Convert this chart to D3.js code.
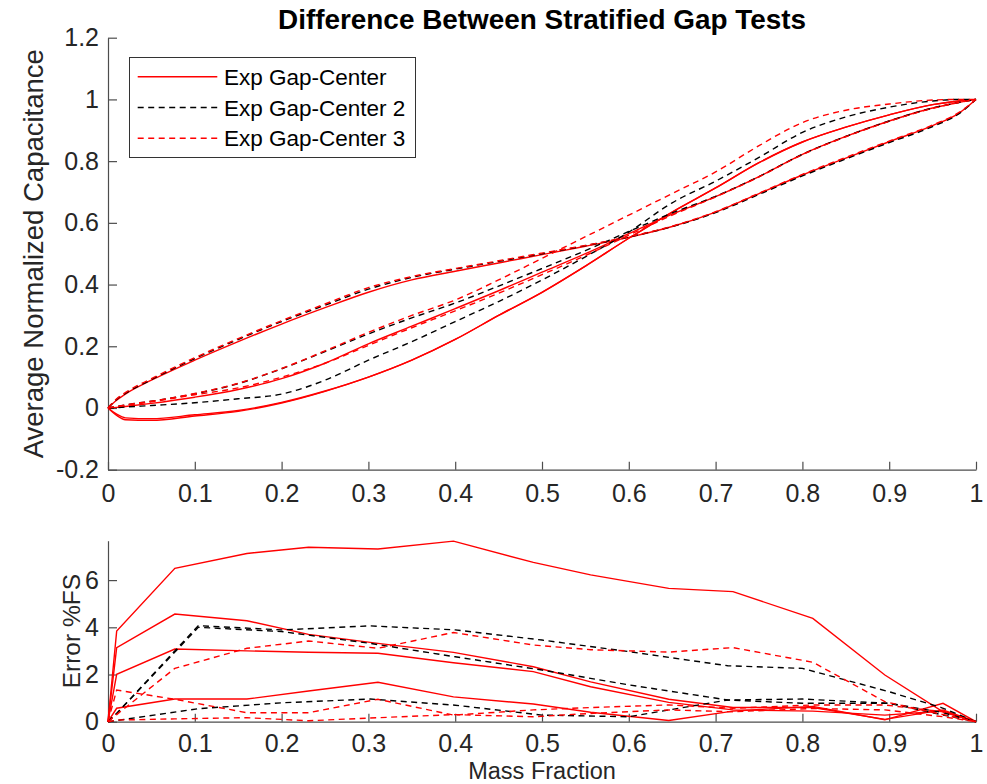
<!DOCTYPE html>
<html>
<head>
<meta charset="utf-8">
<script src="https://cdn.jsdelivr.net/npm/d3@7"></script>
<style>
  body { margin: 0; background: #fff; }
  text { font-family: "Liberation Sans", Arial, Helvetica, sans-serif; }
</style>
</head>
<body>
<script>
// ---- tick labels / legend ----
const xTicks = [0, 0.1, 0.2, 0.3, 0.4, 0.5, 0.6, 0.7, 0.8, 0.9, 1];
const capTicks = [-0.2, 0, 0.2, 0.4, 0.6, 0.8, 1, 1.2];
const errTicks = [0, 2, 4, 6];
const legendLabels = ["Exp Gap-Center", "Exp Gap-Center 2", "Exp Gap-Center 3"];

// ---- top panel: mass fraction grid shared by the capacitance curves ----
const massGrid = [0, 0.01, 0.02, 0.05, 0.1, 0.15, 0.2, 0.25, 0.3, 0.35, 0.4, 0.45, 0.5, 0.55, 0.6, 0.65, 0.7, 0.75, 0.8, 0.85, 0.9, 0.95, 0.98, 1];

// Exp Gap-Center (solid red)
const cap1A = [0, 0.025, 0.045, 0.09, 0.155, 0.215, 0.272, 0.325, 0.375, 0.415, 0.443, 0.47, 0.497, 0.524, 0.553, 0.588, 0.635, 0.695, 0.755, 0.81, 0.863, 0.915, 0.955, 1];
const cap1B = [0, -0.02, -0.032, -0.035, -0.022, -0.008, 0.018, 0.055, 0.1, 0.155, 0.222, 0.3, 0.375, 0.46, 0.55, 0.635, 0.713, 0.795, 0.862, 0.91, 0.95, 0.983, 0.995, 1];
const cap1C = [0, -0.024, -0.038, -0.04, -0.026, -0.011, 0.016, 0.054, 0.1, 0.155, 0.222, 0.3, 0.375, 0.46, 0.55, 0.635, 0.713, 0.795, 0.862, 0.91, 0.95, 0.983, 0.995, 1];
const cap1D = [0, 0.002, 0.005, 0.015, 0.035, 0.06, 0.095, 0.145, 0.208, 0.265, 0.322, 0.38, 0.44, 0.5, 0.565, 0.628, 0.685, 0.75, 0.822, 0.88, 0.93, 0.972, 0.99, 1];

// Exp Gap-Center 2 (dashed black)
const cap2A = [0, 0.028, 0.047, 0.092, 0.16, 0.222, 0.28, 0.333, 0.385, 0.423, 0.45, 0.475, 0.5, 0.526, 0.554, 0.588, 0.633, 0.692, 0.752, 0.807, 0.86, 0.912, 0.953, 1];
const cap2B = [0, 0.001, 0.003, 0.008, 0.017, 0.03, 0.045, 0.09, 0.155, 0.215, 0.28, 0.345, 0.415, 0.49, 0.57, 0.665, 0.735, 0.812, 0.893, 0.943, 0.975, 0.995, 1, 1];
const cap2C = [0, 0.005, 0.01, 0.022, 0.046, 0.079, 0.127, 0.183, 0.24, 0.292, 0.34, 0.395, 0.452, 0.51, 0.572, 0.632, 0.686, 0.75, 0.822, 0.88, 0.93, 0.972, 0.99, 1];

// Exp Gap-Center 3 (dashed red)
const cap3A = [0, 0.03, 0.05, 0.095, 0.163, 0.225, 0.283, 0.337, 0.39, 0.426, 0.452, 0.477, 0.502, 0.527, 0.555, 0.589, 0.636, 0.696, 0.757, 0.812, 0.865, 0.917, 0.957, 1];
const cap3B = [0, 0.005, 0.01, 0.022, 0.047, 0.08, 0.128, 0.185, 0.245, 0.3, 0.35, 0.415, 0.485, 0.555, 0.625, 0.695, 0.765, 0.85, 0.925, 0.965, 0.985, 0.998, 1, 1];
const cap3C = [0, 0.004, 0.008, 0.02, 0.043, 0.065, 0.1, 0.145, 0.203, 0.26, 0.315, 0.372, 0.432, 0.494, 0.56, 0.625, 0.684, 0.749, 0.821, 0.879, 0.929, 0.971, 0.99, 1];

// ---- bottom panel: error %FS at the test points ----
const massRed = [0, 0.01, 0.077, 0.16, 0.231, 0.311, 0.398, 0.49, 0.556, 0.646, 0.72, 0.812, 0.895, 0.962, 1];
const err1A = [0, 3.84, 6.5, 7.13, 7.39, 7.32, 7.65, 6.75, 6.22, 5.65, 5.51, 4.38, 1.98, 0.42, 0];
const err1B = [0, 3.14, 4.56, 4.28, 3.7, 3.32, 2.94, 2.33, 1.69, 0.95, 0.6, 0.6, 0.1, 0.5, 0];
const err1C = [0, 2.01, 3.08, 3.0, 2.94, 2.9, 2.5, 2.12, 1.48, 0.82, 0.5, 0.45, 0.28, 0.45, 0];
const err1D = [0, 0.57, 0.96, 0.96, 1.3, 1.67, 1.05, 0.75, 0.4, 0.05, 0.45, 0.65, 0.08, 0.78, 0];

const massBlack = [0, 0.01, 0.104, 0.2, 0.302, 0.4, 0.5, 0.6, 0.714, 0.8, 0.9, 0.96, 1];
const err2A = [0, 0.35, 4.07, 3.89, 4.06, 3.89, 3.46, 2.97, 2.37, 2.26, 1.27, 0.6, 0];
const err2B = [0, 0.35, 4.0, 3.82, 3.32, 2.75, 2.19, 1.56, 0.92, 0.78, 0.78, 0.3, 0];
const err2C = [0, 0.05, 0.55, 0.8, 0.96, 0.7, 0.28, 0.21, 0.92, 0.96, 0.78, 0.4, 0];

const err3A = [0, 0.3, 2.26, 3.11, 3.42, 3.11, 3.78, 3.25, 3.05, 2.95, 3.14, 2.52, 0.85, 0.3, 0];
const err3B = [0, 1.34, 0.95, 0.38, 0.38, 0.95, 0.28, 0.5, 0.6, 0.71, 0.57, 0.71, 0.71, 0.42, 0];
const err3C = [0, 0.07, 0.12, 0.17, 0.04, 0.17, 0.3, 0.21, 0.35, 0.5, 0.42, 0.56, 0.5, 0.21, 0];

const RED = "#ff0000";
const BLACK = "#000000";
const DASH = "6,4.5";
const AXIS = "#4d4d4d";
const TEXT = "#262626";

const svg = d3.select("body").append("svg")
  .attr("width", 987)
  .attr("height", 784);

const fmt = d => String(+d.toFixed(1));

function styleAxis(g, size) {
  g.attr("font-size", size).attr("font-family", null);
  g.select(".domain").attr("stroke", AXIS).attr("stroke-width", 1.2);
  g.selectAll(".tick line").attr("stroke", AXIS).attr("stroke-width", 1.2);
  g.selectAll(".tick text").attr("fill", TEXT);
}

function zip(xs, ys) {
  return xs.map((x, i) => [x, ys[i]]);
}

// ================= top panel =================
const xTop = d3.scaleLinear().domain([0, 1]).range([108, 976]);
const yTop = d3.scaleLinear().domain([-0.2, 1.2]).range([469.7, 37.7]);

svg.append("g")
  .attr("transform", `translate(0, ${yTop(-0.2)})`)
  .call(d3.axisBottom(xTop).tickValues(xTicks).tickFormat(fmt)
    .tickSizeInner(-8).tickSizeOuter(0).tickPadding(15))
  .call(g => styleAxis(g, 25));

svg.append("g")
  .attr("transform", `translate(${xTop(0)}, 0)`)
  .call(d3.axisLeft(yTop).tickValues(capTicks).tickFormat(fmt)
    .tickSizeInner(-9).tickSizeOuter(0).tickPadding(9))
  .call(g => styleAxis(g, 25));

const capLine = d3.line()
  .x(d => xTop(d[0]))
  .y(d => yTop(d[1]))
  .curve(d3.curveMonotoneX);

const capCurves = [
  {v: cap1A, c: RED, dash: null}, {v: cap1B, c: RED, dash: null},
  {v: cap1C, c: RED, dash: null}, {v: cap1D, c: RED, dash: null},
  {v: cap2A, c: BLACK, dash: DASH}, {v: cap2B, c: BLACK, dash: DASH}, {v: cap2C, c: BLACK, dash: DASH},
  {v: cap3A, c: RED, dash: DASH}, {v: cap3B, c: RED, dash: DASH}, {v: cap3C, c: RED, dash: DASH}
];

svg.append("g")
  .selectAll("path")
  .data(capCurves)
  .join("path")
    .attr("fill", "none")
    .attr("stroke", d => d.c)
    .attr("stroke-width", 1.4)
    .attr("stroke-dasharray", d => d.dash)
    .attr("d", d => capLine(zip(massGrid, d.v)));

// title
svg.append("text")
  .attr("x", (xTop(0) + xTop(1)) / 2)
  .attr("y", 29)
  .attr("text-anchor", "middle")
  .attr("font-size", 27.9)
  .attr("font-weight", "bold")
  .attr("fill", "#000")
  .text("Difference Between Stratified Gap Tests");

// y label
svg.append("text")
  .attr("transform", `translate(43, ${(yTop(-0.2) + yTop(1.2)) / 2}) rotate(-90)`)
  .attr("text-anchor", "middle")
  .attr("font-size", 27.5)
  .attr("fill", TEXT)
  .text("Average Normalized Capacitance");

// legend
const legend = svg.append("g");
legend.append("rect")
  .attr("x", 129.5).attr("y", 57.5)
  .attr("width", 286).attr("height", 100)
  .attr("fill", "#fff")
  .attr("stroke", "#333")
  .attr("stroke-width", 1);

const legendStyle = [
  {c: RED, dash: null}, {c: BLACK, dash: DASH}, {c: RED, dash: DASH}
];
const rows = legend.selectAll("g")
  .data(legendLabels)
  .join("g")
    .attr("transform", (d, i) => `translate(0, ${76.7 + i * 30.8})`);
rows.append("line")
  .attr("x1", 137.7).attr("x2", 217.3)
  .attr("stroke", (d, i) => legendStyle[i].c)
  .attr("stroke-width", 1.4)
  .attr("stroke-dasharray", (d, i) => legendStyle[i].dash);
rows.append("text")
  .attr("x", 224)
  .attr("y", 8)
  .attr("font-size", 22.5)
  .attr("fill", "#000")
  .text(d => d);

// ================= bottom panel =================
const xErr = d3.scaleLinear().domain([0, 1]).range([108, 976]);
const yErr = d3.scaleLinear().domain([0, 7.67]).range([721.7, 540.7]);

svg.append("g")
  .attr("transform", `translate(0, ${yErr(0)})`)
  .call(d3.axisBottom(xErr).tickValues(xTicks).tickFormat(fmt)
    .tickSizeInner(-8).tickSizeOuter(0).tickPadding(12.5))
  .call(g => styleAxis(g, 25));

svg.append("g")
  .attr("transform", `translate(${xErr(0)}, 0)`)
  .call(d3.axisLeft(yErr).tickValues(errTicks).tickFormat(fmt)
    .tickSizeInner(-9).tickSizeOuter(0).tickPadding(9))
  .call(g => styleAxis(g, 25));

const errLine = d3.line()
  .x(d => xErr(d[0]))
  .y(d => yErr(d[1]));

const errCurves = [
  {x: massRed, v: err1A, c: RED, dash: null}, {x: massRed, v: err1B, c: RED, dash: null},
  {x: massRed, v: err1C, c: RED, dash: null}, {x: massRed, v: err1D, c: RED, dash: null},
  {x: massBlack, v: err2A, c: BLACK, dash: DASH}, {x: massBlack, v: err2B, c: BLACK, dash: DASH},
  {x: massBlack, v: err2C, c: BLACK, dash: DASH},
  {x: massRed, v: err3A, c: RED, dash: DASH}, {x: massRed, v: err3B, c: RED, dash: DASH},
  {x: massRed, v: err3C, c: RED, dash: DASH}
];

svg.append("g")
  .selectAll("path")
  .data(errCurves)
  .join("path")
    .attr("fill", "none")
    .attr("stroke", d => d.c)
    .attr("stroke-width", 1.4)
    .attr("stroke-dasharray", d => d.dash)
    .attr("d", d => errLine(zip(d.x, d.v)));

svg.append("text")
  .attr("transform", `translate(80, ${(yErr(0) + yErr(7.67)) / 2}) rotate(-90)`)
  .attr("text-anchor", "middle")
  .attr("font-size", 24.5)
  .attr("fill", TEXT)
  .text("Error %FS");

svg.append("text")
  .attr("x", (xErr(0) + xErr(1)) / 2)
  .attr("y", 779)
  .attr("text-anchor", "middle")
  .attr("font-size", 23.5)
  .attr("fill", TEXT)
  .text("Mass Fraction");
</script>
</body>
</html>
